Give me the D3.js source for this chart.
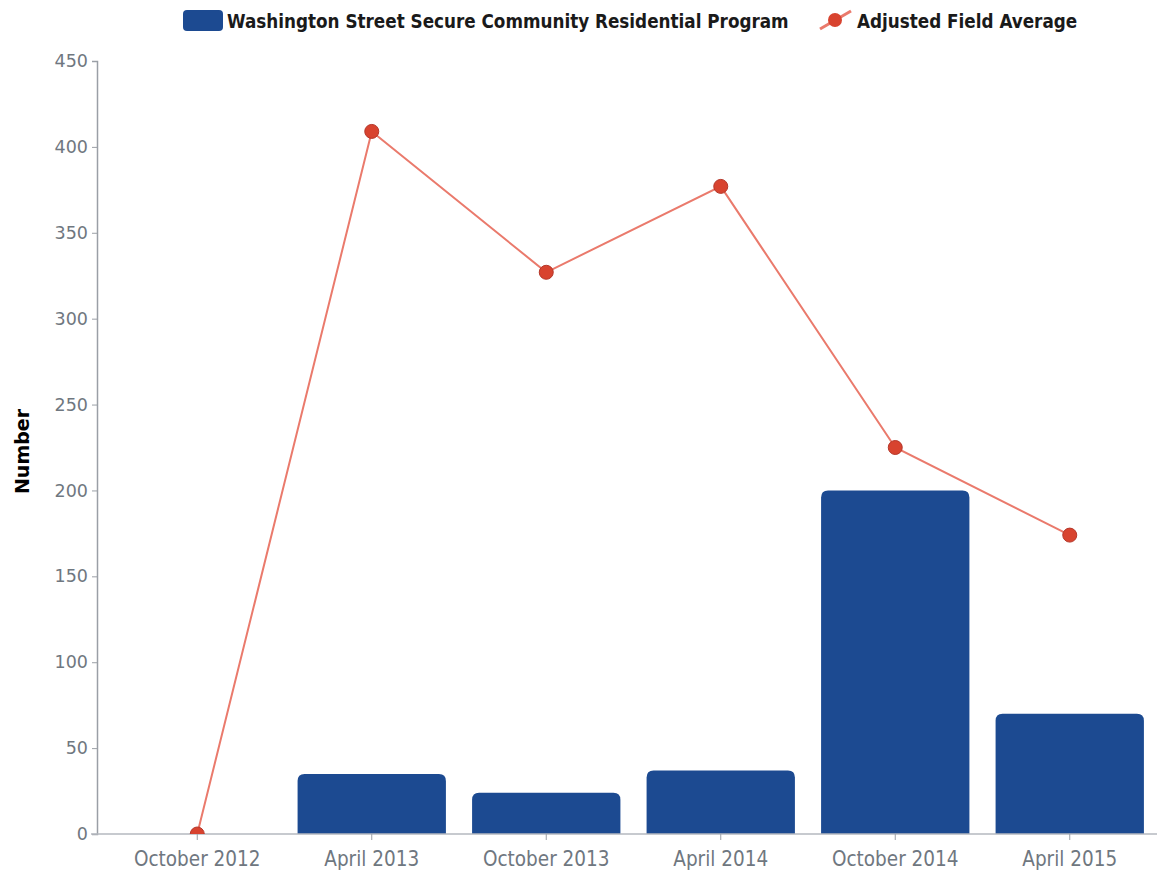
<!DOCTYPE html>
<html>
<head>
<meta charset="utf-8">
<script src="https://cdn.jsdelivr.net/npm/d3@7/dist/d3.min.js"></script>
<style>
  body { margin: 0; background: #fff; }
</style>
</head>
<body>
<div id="chart"></div>
<script>
// data
var periods = ['October 2012', 'April 2013', 'October 2013', 'April 2014', 'October 2014', 'April 2015'];
var programValues = [0, 35, 24, 37, 200, 70];
var fieldAverage = [0, 409, 327, 377, 225, 174];
var yTicks = [0, 50, 100, 150, 200, 250, 300, 350, 400, 450];
var seriesNames = ['Washington Street Secure Community Residential Program', 'Adjusted Field Average'];

var width = 1161, height = 876;
var plot = {left: 97, right: 1157, top: 61, bottom: 834};

var barColor = '#1c4a91';
var lineColor = '#ea7a6c';
var dotColor = '#d8432f';

var svg = d3.select('#chart').append('svg')
    .attr('width', width)
    .attr('height', height);

// scales
var x = d3.scaleBand()
    .domain(periods)
    .range([110, 1157])
    .paddingInner(0.15)
    .paddingOuter(0.075);

var y = d3.scaleLinear()
    .domain([0, 450])
    .range([plot.bottom, plot.top]);

svg.append('clipPath').attr('id', 'plotclip')
  .append('rect')
    .attr('x', plot.left)
    .attr('y', plot.top - 10)
    .attr('width', plot.right - plot.left)
    .attr('height', plot.bottom - plot.top + 10);

// bars, rounded top corners
function topRounded(x0, y0, w, h, r) {
  r = Math.min(r, h, w / 2);
  return 'M' + x0 + ',' + (y0 + h) +
    'V' + (y0 + r) +
    'Q' + x0 + ',' + y0 + ' ' + (x0 + r) + ',' + y0 +
    'H' + (x0 + w - r) +
    'Q' + (x0 + w) + ',' + y0 + ' ' + (x0 + w) + ',' + (y0 + r) +
    'V' + (y0 + h) + 'Z';
}

svg.append('g').selectAll('path.bar')
    .data(periods)
  .enter().append('path')
    .attr('class', 'bar')
    .attr('fill', barColor)
    .attr('d', function(d, i) {
      var v = programValues[i];
      if (!v) return null;
      return topRounded(x(d), y(v), x.bandwidth(), y(0) - y(v), 7);
    });

// y axis
var yAxis = d3.axisLeft(y)
    .tickValues(yTicks)
    .tickSize(5)
    .tickPadding(4);

var gy = svg.append('g')
    .attr('transform', 'translate(' + plot.left + ',0)')
    .call(yAxis);
gy.select('.domain').attr('stroke', '#9a9fa6').attr('stroke-width', 1.5);
gy.selectAll('.tick line').attr('stroke', '#9a9fa6');
gy.selectAll('.tick text')
    .attr('fill', '#6f7780')
    .attr('font-family', 'DejaVu Sans')
    .attr('font-size', '17.5px');

// x axis
var xAxis = d3.axisBottom(x)
    .tickSize(6)
    .tickPadding(11)
    .tickSizeOuter(0);

var gx = svg.append('g')
    .attr('transform', 'translate(0,' + plot.bottom + ')')
    .call(xAxis);
gx.select('.domain')
    .attr('d', 'M' + (plot.left - 6) + ',0H' + plot.right)
    .attr('stroke', '#b4b9bf').attr('stroke-width', 1.5);
gx.selectAll('.tick line').attr('stroke', '#9a9fa6');
gx.selectAll('.tick text')
    .attr('fill', '#6f7780')
    .attr('font-family', 'DejaVu Sans Condensed')
    .attr('font-size', '20.5px');

// y label
svg.append('text')
    .attr('transform', 'translate(29,' + ((plot.top + plot.bottom) / 2 + 4) + ') rotate(-90)')
    .attr('text-anchor', 'middle')
    .attr('font-family', 'DejaVu Sans')
    .attr('font-weight', 'bold')
    .attr('font-size', '19px')
    .attr('fill', '#000')
    .text('Number');

// line
var line = d3.line()
    .x(function(d, i) { return x(periods[i]) + x.bandwidth() / 2; })
    .y(function(d) { return y(d); });

var gl = svg.append('g').attr('clip-path', 'url(#plotclip)');

gl.append('path')
    .datum(fieldAverage)
    .attr('fill', 'none')
    .attr('stroke', lineColor)
    .attr('stroke-width', 2)
    .attr('d', line);

gl.selectAll('circle.dot')
    .data(fieldAverage)
  .enter().append('circle')
    .attr('class', 'dot')
    .attr('cx', function(d, i) { return x(periods[i]) + x.bandwidth() / 2; })
    .attr('cy', function(d) { return y(d); })
    .attr('r', 7)
    .attr('fill', dotColor)
    .attr('stroke', '#b5372a')
    .attr('stroke-width', 1);

// legend
var legend = svg.append('g').attr('font-family', 'DejaVu Sans Condensed')
    .attr('font-weight', 'bold').attr('font-size', '18.7px').attr('fill', '#1a1a1a');

legend.append('rect')
    .attr('x', 183).attr('y', 10)
    .attr('width', 40).attr('height', 21)
    .attr('rx', 4)
    .attr('fill', barColor);

legend.append('text')
    .attr('x', 227).attr('y', 28)
    .text(seriesNames[0]);

legend.append('line')
    .attr('x1', 820).attr('y1', 29)
    .attr('x2', 851).attr('y2', 11)
    .attr('stroke', lineColor)
    .attr('stroke-width', 3);

legend.append('circle')
    .attr('cx', 835).attr('cy', 20)
    .attr('r', 7)
    .attr('fill', dotColor);

legend.append('text')
    .attr('x', 857).attr('y', 28)
    .text(seriesNames[1]);
</script>
</body>
</html>
